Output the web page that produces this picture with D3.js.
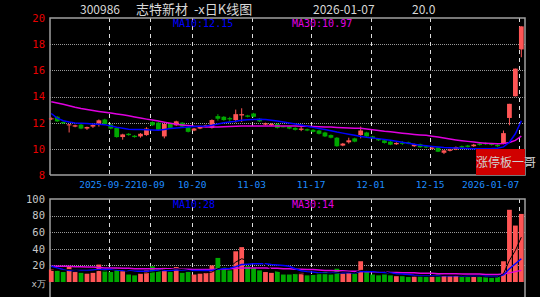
<!DOCTYPE html>
<html><head><meta charset="utf-8">
<script src="https://cdn.jsdelivr.net/npm/d3@7"></script>
<style>html,body{margin:0;padding:0;background:#000;overflow:hidden}</style>
</head><body><svg id="c" width="540" height="297"></svg>
<script>
const dates = [
"2025-09-08","2025-09-09","2025-09-10","2025-09-11","2025-09-12","2025-09-15","2025-09-16","2025-09-17","2025-09-18","2025-09-19",
"2025-09-22","2025-09-23","2025-09-24","2025-09-25","2025-09-26","2025-09-29","2025-09-30",
"2025-10-09","2025-10-10","2025-10-13","2025-10-14","2025-10-15","2025-10-16","2025-10-17","2025-10-20","2025-10-21","2025-10-22","2025-10-23","2025-10-24","2025-10-27","2025-10-28","2025-10-29","2025-10-30","2025-10-31",
"2025-11-03","2025-11-04","2025-11-05","2025-11-06","2025-11-07","2025-11-10","2025-11-11","2025-11-12","2025-11-13","2025-11-14","2025-11-17","2025-11-18","2025-11-19","2025-11-20","2025-11-21","2025-11-24","2025-11-25","2025-11-26","2025-11-27","2025-11-28",
"2025-12-01","2025-12-02","2025-12-03","2025-12-04","2025-12-05","2025-12-08","2025-12-09","2025-12-10","2025-12-11","2025-12-12","2025-12-15","2025-12-16","2025-12-17","2025-12-18","2025-12-19","2025-12-22","2025-12-23","2025-12-24","2025-12-25","2025-12-26","2025-12-29","2025-12-30","2025-12-31",
"2026-01-05","2026-01-06","2026-01-07"];
const openP = [12.28,12.45,12.05,11.80,11.70,11.85,11.55,11.70,11.93,12.24,
11.85,11.60,10.90,11.15,11.00,10.95,11.05,12.05,12.00,10.95,
11.90,11.80,12.00,11.65,11.40,11.55,11.70,11.60,12.50,12.45,
12.35,12.20,12.55,12.55,12.70,12.30,11.85,11.80,11.90,11.72,
11.70,11.60,11.45,11.50,11.45,11.40,11.25,11.05,10.85,10.25,
10.50,10.80,11.05,11.25,10.95,10.75,10.65,10.55,10.35,10.46,
10.50,10.20,10.35,10.20,10.00,10.10,9.70,9.85,9.95,10.20,
10.25,10.20,10.40,10.45,10.40,10.30,10.40,12.36,14.02,17.60];
const highP = [12.40,12.50,12.10,11.90,11.85,11.90,11.70,11.90,12.25,12.30,
11.90,11.65,11.15,11.20,11.05,11.20,11.65,12.10,12.05,11.95,
11.95,12.15,12.05,11.70,11.60,11.75,11.85,12.25,12.65,12.50,
12.45,13.00,13.10,12.60,12.75,12.35,12.00,11.95,11.95,11.75,
11.75,11.65,11.70,11.55,11.50,11.45,11.30,11.10,10.90,10.45,
10.85,10.85,11.70,11.30,11.00,10.80,10.70,10.60,10.50,10.60,
10.55,10.40,10.40,10.25,10.20,10.15,9.92,10.00,10.18,10.25,
10.30,10.38,10.45,10.50,10.45,10.35,11.40,13.44,16.13,19.36];
const lowP = [12.20,12.05,11.90,11.25,11.65,11.50,11.45,11.60,11.70,11.85,
11.50,10.85,10.70,11.00,10.85,10.85,11.00,11.75,11.40,10.80,
11.55,11.75,11.65,11.25,11.35,11.50,11.65,11.55,12.15,12.15,
12.05,12.00,12.05,12.40,12.40,12.05,11.80,11.75,11.55,11.65,
11.50,11.40,11.35,11.35,11.25,11.10,10.90,10.80,10.15,10.20,
10.40,10.50,10.80,10.90,10.75,10.60,10.40,10.28,10.30,10.30,
10.35,10.15,10.08,10.05,9.95,9.75,9.60,9.80,9.90,10.05,
10.10,10.15,10.25,10.30,10.25,10.15,10.35,11.80,14.00,17.00];
const closeP = [12.33,12.10,11.95,11.87,11.80,11.55,11.67,11.82,12.18,11.90,
11.55,10.90,11.10,11.05,10.90,11.15,11.55,11.80,11.45,11.90,
11.60,12.10,11.70,11.30,11.55,11.70,11.80,12.20,12.30,12.20,
12.25,12.65,12.65,12.45,12.45,12.10,11.95,11.90,11.60,11.68,
11.55,11.45,11.55,11.40,11.30,11.15,10.95,10.85,10.20,10.40,
10.65,10.55,11.40,10.95,10.80,10.65,10.45,10.32,10.45,10.44,
10.40,10.35,10.12,10.10,10.10,9.78,9.88,9.95,10.14,10.10,
10.15,10.32,10.30,10.35,10.30,10.20,11.20,13.44,16.13,19.36];
const volume = [15,14,12,19,12,11,10,11,21,14,
12,16,13,9,8,10,14,19,15,17,
12,18,11,12,9,10,11,20,29,18,
14,37,42,19,17,14,12,11,13,9,
9,10,11,8,9,11,12,9,16,10,
11,10,25,14,9,8,9,8,7,7,
6,7,8,6,7,9,8,7,8,6,
6,7,6,6,5,6,25,87,68,82];
const ma10 = [12.70,12.35,12.15,12.05,11.98,11.95,11.93,11.90,11.88,11.85,
11.75,11.65,11.58,11.50,11.48,11.47,11.45,11.43,11.42,11.48,
11.55,11.60,11.63,11.67,11.70,11.72,11.75,11.80,11.90,12.00,
12.05,12.10,12.18,12.22,12.25,12.26,12.25,12.18,12.12,12.05,
11.98,11.90,11.82,11.73,11.64,11.55,11.47,11.38,11.28,11.20,
11.12,11.03,10.95,10.88,10.83,10.78,10.72,10.65,10.58,10.50,
10.42,10.35,10.28,10.23,10.18,10.14,10.10,10.08,10.06,10.04,
10.02,10.00,10.00,10.01,10.02,10.05,10.15,10.50,11.15,12.15];
const ma30 = [13.60,13.50,13.40,13.30,13.18,13.08,13.00,12.93,12.86,12.80,
12.73,12.67,12.60,12.52,12.43,12.35,12.27,12.20,12.12,12.03,
11.95,11.88,11.83,11.78,11.73,11.70,11.67,11.67,11.67,11.68,
11.70,11.72,11.74,11.75,11.75,11.75,11.75,11.75,11.75,11.75,
11.75,11.75,11.73,11.72,11.70,11.68,11.67,11.66,11.64,11.62,
11.60,11.58,11.58,11.52,11.46,11.40,11.34,11.30,11.25,11.20,
11.15,11.10,11.06,11.03,10.97,10.90,10.82,10.75,10.68,10.62,
10.57,10.52,10.47,10.43,10.40,10.38,10.40,10.48,10.65,10.97];
const vma5 = [14,14,14,15,14,13,13,13,14,13,
14,15,15,13,12,11,11,12,13,15,
15,16,15,14,12,12,11,12,16,18,
18,24,28,26,26,26,21,15,13,12,
11,10,10,9,9,10,10,10,11,12,
12,11,14,14,14,13,13,10,8,8,
7,7,7,7,7,7,8,8,8,8,
7,7,7,6,6,6,10,26,38,54];
const vma10 = [19,17,15,14,14,14,14,14.5,15,15,
15,14.5,14,13.5,13,13,13,13.5,14,14,
14,14.5,14.5,14,14,14,14,14,15.5,16,
16.5,18.5,21,21.5,22,22,22,21,20.5,20,
19,16,13.5,12.5,12,11,10.5,10.5,11,11,
11,11,12.5,13,12.5,12,11.5,11,10,9.5,
9,8,7.5,7.5,7.5,7.5,7.5,7.5,7.5,7.5,
7,7,7,7,6.5,6.5,8.5,16,22,28];
const vma30 = [19,19,19,19,18.5,18.5,18,18,17.5,17,
17,17,16.5,16.5,16,16,16,16,16,16,
16,16,15.5,15.5,15,15,15,15,15.5,15.5,
16,16.5,17,17,17,17,17,16.5,16.5,16,
16,15.5,15.5,15,15,14.5,14,14,13.5,13.5,
13,13,13,12.5,12.5,12,12,11.5,11.5,11,
11,11,10.5,10.5,10.5,10,10,10,10,9.5,
9.5,9.5,9.5,9,9,9,9.5,11,12.5,14];
const priceTicks = [8,10,12,14,16,18,20];
const volTicks = [20,40,60,80,100];
const tickDates = ["2025-09-22","2025-10-09","2025-10-20","2025-11-03","2025-11-17","2025-12-01","2025-12-15","2026-01-07"];
const tickLabels = ["2025-09-22","10-09","10-20","11-03","11-17","12-01","12-15","2026-01-07"];

const svg = d3.select("#c");
svg.append("rect").attr("width",540).attr("height",297).attr("fill","#000");
const L = 50, R = 525, PT = 18, PB = 175, VT = 199, VB = 282;
const x = d3.scaleBand().domain(dates).range([48.3,524.3]).paddingInner(0.2).paddingOuter(0.1);
const cx = d => x(d) + x.bandwidth()/2;
const y = d3.scaleLinear().domain([8,20]).range([PB,PT]);
const yv = d3.scaleLinear().domain([0,100]).range([VB,VT]);
const mono = "'DejaVu Sans Mono','Liberation Mono',monospace";
const UP = "#ff5555", DN = "#00a800";

// grid
const g = svg.append("g");
g.selectAll(".hg").data(priceTicks.filter(t=>t>8&&t<20)).join("line")
 .attr("x1",L).attr("x2",R).attr("y1",d=>Math.round(y(d))+0.5).attr("y2",d=>Math.round(y(d))+0.5)
 .attr("stroke","#9a9a9a").attr("stroke-dasharray","1,1");
g.selectAll(".vg").data(volTicks.filter(t=>t<100)).join("line")
 .attr("x1",L).attr("x2",R).attr("y1",d=>Math.round(yv(d))+0.5).attr("y2",d=>Math.round(yv(d))+0.5)
 .attr("stroke","#9a9a9a").attr("stroke-dasharray","1,1");
tickDates.forEach(d=>{
  const xx = Math.round(cx(d)-2)+0.5;
  g.append("line").attr("x1",xx).attr("x2",xx).attr("y1",PT).attr("y2",PB).attr("stroke","#dddddd").attr("stroke-dasharray","4,4");
  g.append("line").attr("x1",xx).attr("x2",xx).attr("y1",VT).attr("y2",VB).attr("stroke","#dddddd").attr("stroke-dasharray","4,4");
});
// frames
const fr = svg.append("g").attr("stroke","#a0a0a0").attr("stroke-width",1.5).attr("fill","none");
fr.append("path").attr("d",`M${L},${PB}V${PT}H${R}V${PB}H${L}`);
fr.append("path").attr("d",`M${L},297V${VT}H${R}V297`);

// axes
const ay = svg.append("g").attr("transform",`translate(${L},0)`)
 .call(d3.axisLeft(y).tickValues(priceTicks).tickSize(0).tickPadding(5).tickFormat(d3.format("d")));
ay.select(".domain").remove();
ay.selectAll("text").attr("fill","#e80000").attr("font-family",mono).attr("font-size","10.5px");
const av = svg.append("g").attr("transform",`translate(${L},0)`)
 .call(d3.axisLeft(yv).tickValues(volTicks).tickSize(0).tickPadding(5).tickFormat(d3.format("d")));
av.select(".domain").remove();
av.selectAll("text").attr("fill","#c8c8c8").attr("font-family",mono).attr("font-size","10.5px");
svg.append("text").attr("x",46).attr("y",287).attr("text-anchor","end").attr("fill","#c8c8c8")
 .attr("font-family",mono).attr("font-size","9px").text("x万");

// date labels
tickDates.forEach((d,i)=>{
  const xx = cx(d)-2;
  const last = i===tickDates.length-1;
  svg.append("text").attr("x",i===0?xx-1:xx).attr("y",188).attr("text-anchor",last?"end":"middle")
   .attr("fill","#1e8cff").attr("font-family",mono).attr("font-size","9.5px").text(tickLabels[i]);
});

// candles
const bw = x.bandwidth();
const cg = svg.append("g");
dates.forEach((d,i)=>{
  const up = closeP[i] >= openP[i];
  const col = up ? UP : DN;
  cg.append("line").attr("x1",cx(d)).attr("x2",cx(d)).attr("y1",y(highP[i])).attr("y2",y(lowP[i])).attr("stroke",col).attr("stroke-width",1);
  const top = y(Math.max(openP[i],closeP[i])), bot = y(Math.min(openP[i],closeP[i]));
  cg.append("rect").attr("x",x(d)).attr("width",bw).attr("y",top).attr("height",Math.max(1,bot-top)).attr("fill",col);
  svg.append("rect").attr("x",x(d)).attr("width",bw).attr("y",yv(volume[i])).attr("height",VB-yv(volume[i])).attr("fill",col);
});

// MA lines
const lineP = arr => d3.line().x((v,i)=>cx(dates[i])).y(v=>y(v))(arr);
const lineV = arr => d3.line().x((v,i)=>cx(dates[i])).y(v=>yv(v))(arr);
svg.append("path").attr("d",lineP(ma30)).attr("fill","none").attr("stroke","#e000e0").attr("stroke-width",1.5);
svg.append("path").attr("d",lineP(ma10)).attr("fill","none").attr("stroke","#0000ff").attr("stroke-width",1.5);
svg.append("path").attr("d",lineV(vma30)).attr("fill","none").attr("stroke","#e000e0").attr("stroke-width",1.5);
svg.append("path").attr("d",lineV(vma10)).attr("fill","none").attr("stroke","#0000ff").attr("stroke-width",1.5);
svg.append("path").attr("d",lineV(vma5)).attr("fill","none").attr("stroke","#000000").attr("stroke-width",1);

// MA labels
const lab = (xx,yy,c,t)=>svg.append("text").attr("x",xx).attr("y",yy).attr("fill",c).attr("font-family",mono).attr("font-size","10px").text(t);
lab(173,27,"#0000ff","MA10:"+ma10[ma10.length-1].toFixed(2));
lab(292,27,"#e000e0","MA30:"+ma30[ma30.length-1].toFixed(2));
lab(173,208,"#0000ff","MA10:"+Math.round(vma10[vma10.length-1]));
lab(292,208,"#e000e0","MA30:"+Math.round(vma30[vma30.length-1]));

// title
const tf = "'Noto Sans CJK SC','Noto Sans',sans-serif";
const tt = (xx,t,fs)=>svg.append("text").attr("x",xx).attr("y",14).attr("fill","#d8d8d8").attr("font-family",tf).attr("font-size",fs).text(t);
tt(80,"300986","12px");
tt(136,"志特新材","13px");
tt(194,"-x日K线图","13px");
tt(313,"2026-01-07","12px");
tt(412,"20.0","12px");

// stamp
svg.append("rect").attr("x",476).attr("y",149).attr("width",49).attr("height",26).attr("fill","#d00000");
svg.append("text").attr("x",476).attr("y",167).attr("fill","#d0d0d0").attr("font-family",tf).attr("font-size","12px").text("涨停板一哥");
</script></body></html>
